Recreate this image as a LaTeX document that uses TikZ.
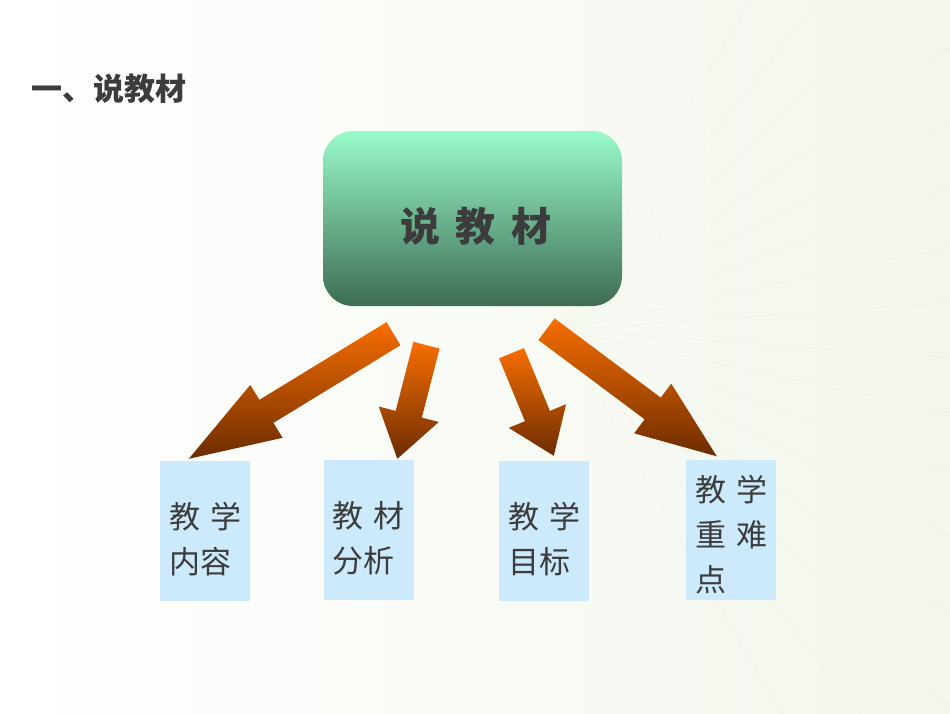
\documentclass[tikz,border=0pt]{standalone}
\usepackage{fontspec}
\setmainfont{Noto Sans CJK SC}
\usetikzlibrary{calc}

\definecolor{titlegray}{RGB}{60,60,60}
\definecolor{mintTop}{RGB}{153,251,202}
\definecolor{mintBottom}{RGB}{62,107,84}
\definecolor{arrowTop}{RGB}{247,110,0}
\definecolor{arrowBottom}{RGB}{108,44,0}
\definecolor{labelBlue}{RGB}{204,234,252}
\definecolor{rayGreen}{RGB}{214,226,190}

\tikzset{
  mainbox/.style={rounded corners=30pt, top color=mintTop, bottom color=mintBottom,
    minimum width=299pt, minimum height=175pt, inner sep=0pt, text=titlegray,
    font=\fontsize{40}{48}\selectfont\bfseries},
  labelbox/.style={fill=labelBlue, minimum width=90pt, minimum height=140pt,
    inner xsep=9pt, inner ysep=0pt, text width=72pt, align=left, text=titlegray,
    font=\fontsize{31}{45}\selectfont},
  arrowshade/.style={top color=arrowTop, bottom color=arrowBottom}
}

\begin{document}
\begin{tikzpicture}[x=1pt, y=-1pt]
    % page
    \useasboundingbox (0,0) rectangle (950,713);
    \shade[left color=white, right color=rayGreen!30] (0,0) rectangle (950,713);
    \foreach \a in {-60,-52,...,60}
        \draw[rayGreen, opacity=0.18, line width=1pt] (560,330) -- ++(\a:700);

    % title
    \node[anchor=west, inner sep=0pt, text=titlegray, font=\fontsize{31}{36}\selectfont\bfseries]
        (title) at (31,89) {一、说教材};

    % main box
    \node[mainbox] (sjc) at (472.5,218.5)
        {\hspace{7pt}\raisebox{-8pt}[\height][\depth]{说\hspace{.4em}教\hspace{.4em}材}};

    % label boxes
    \node[labelbox] (nr) at (205,531)   {\rule{0pt}{42pt}教~学\\内容};
    \node[labelbox] (fx) at (368.5,530) {\rule{0pt}{42pt}教~材\\分析};
    \node[labelbox] (mb) at (544,531)   {\rule{0pt}{42pt}教~学\\目标};
    \node[labelbox] (zd) at (731,529.5) {\rule{0pt}{36pt}教~学\\重~难\\点};

    % arrow ends
    \coordinate (t1) at ($(sjc.south)+(-79,27.5)$);
    \coordinate (t2) at ($(sjc.south)+(-46,39)$);
    \coordinate (t3) at ($(sjc.south)+(39,47)$);
    \coordinate (t4) at ($(sjc.south)+(74,23)$);
    \coordinate (h1) at ($(nr.north west)+(29,-2)$);
    \coordinate (h2) at ($(fx.north west)+(74,-1)$);
    \coordinate (h3) at ($(mb.north west)+(55,-5)$);
    \coordinate (h4) at ($(zd.north west)+(31,-3)$);

    % block arrows
    \foreach \i/\hl in {1/91pt, 2/46pt, 3/43pt, 4/80pt}{
        \coordinate (s) at ($(h\i)!\hl!(t\i)$);
        \shade[arrowshade] ($(t\i)!13.5pt!90:(h\i)$) -- ($(s)!13.5pt!90:(h\i)$)
            -- ($(s)!31pt!90:(h\i)$) -- (h\i) -- ($(s)!31pt!-90:(h\i)$)
            -- ($(s)!13.5pt!-90:(h\i)$) -- ($(t\i)!13.5pt!-90:(h\i)$) -- cycle;
    }
\end{tikzpicture}
\end{document}
